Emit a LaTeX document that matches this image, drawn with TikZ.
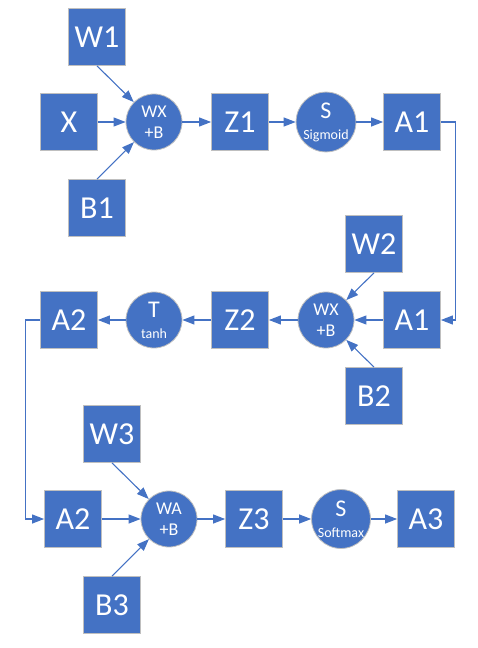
\documentclass[tikz,border=0pt]{standalone}
\usepackage{fontspec}
\setmainfont{Carlito}
\usetikzlibrary{positioning, arrows.meta}
\definecolor{nnblue}{HTML}{4472C4}
\definecolor{nnedge}{HTML}{BFBFBF}

\newcommand{\bigop}[1]{{\fontsize{24}{24}\selectfont #1}}
\newcommand{\smallop}[1]{{\fontsize{14}{14}\selectfont #1}}

\begin{document}
\begin{tikzpicture}[x=1pt, y=1pt, on grid, node distance=86pt,
    box/.style={rectangle, fill=nnblue, draw=nnedge, line width=0.8pt,
        minimum size=57pt, inner sep=0pt, text=white,
        font=\fontsize{32}{32}\selectfont},
    op/.style={circle, fill=nnblue, draw=nnedge, line width=0.8pt,
        minimum size=56pt, inner sep=0pt, text=white, align=center,
        font=\fontsize{18}{21}\selectfont},
    conn/.style={draw=nnblue, line width=1.1pt,
        -{Triangle[length=12pt, width=9pt]}}]
    \useasboundingbox (0,0) rectangle (478,-648);

    % layer 1
    \node[box] (x) at (69,-122) {X};
    \node[op, right=85pt of x] (c1) {WX\\+B};
    \node[box, right=of c1] (z1) {Z1};
    \node[op, right=of z1] (s1) {\bigop{S}\\[0pt]\smallop{Sigmoid}};
    \node[box, right=of s1] (a1) {A1};
    \node[box, above left=85pt and 57pt of c1] (w1) {W1};
    \node[box, below left=86pt and 57pt of c1] (b1) {B1};

    % layer 2
    \node[box, below=198pt of a1] (a1b) {A1};
    \node[op, left=of a1b] (c2) {WX\\+B};
    \node[box, left=of c2] (z2) {Z2};
    \node[op, left=of z2] (t2) {\bigop{T}\\[0pt]\smallop{tanh}};
    \node[box, left=85pt of t2] (a2) {A2};
    \node[box, above right=76pt and 48pt of c2] (w2) {W2};
    \node[box, below right=76pt and 48pt of c2] (b2) {B2};

    % layer 3
    \node[box] (a2b) at (73,-519) {A2};
    \node[op, right=96pt of a2b] (c3) {WA\\+B};
    \node[box, right=85pt of c3] (z3) {Z3};
    \node[op, right=87pt of z3] (s3) {\bigop{S}\\[0pt]\smallop{Softmax}};
    \node[box, right=85pt of s3] (a3) {A3};
    \node[box, above left=85pt and 57pt of c3] (w3) {W3};
    \node[box, below left=86pt and 57pt of c3] (b3) {B3};

    \draw[conn] (x) -- (c1);
    \draw[conn] (w1.south) -- (c1);
    \draw[conn] (b1.north) -- (c1);
    \draw[conn] (c1) -- (z1);
    \draw[conn] (z1) -- (s1);
    \draw[conn] (s1) -- (a1);
    \draw[conn] (a1.east) -- ([xshift=15pt]a1.east) |- (a1b.east);

    \draw[conn] (a1b) -- (c2);
    \draw[conn] (w2.south) -- (c2);
    \draw[conn] (b2.north) -- (c2);
    \draw[conn] (c2) -- (z2);
    \draw[conn] (z2) -- (t2);
    \draw[conn] (t2) -- (a2);
    \draw[conn] (a2.west) -- ([xshift=-15pt]a2.west) |- (a2b.west);

    \draw[conn] (a2b) -- (c3);
    \draw[conn] (w3.south) -- (c3);
    \draw[conn] (b3.north) -- (c3);
    \draw[conn] (c3) -- (z3);
    \draw[conn] (z3) -- (s3);
    \draw[conn] (s3) -- (a3);
\end{tikzpicture}
\end{document}
